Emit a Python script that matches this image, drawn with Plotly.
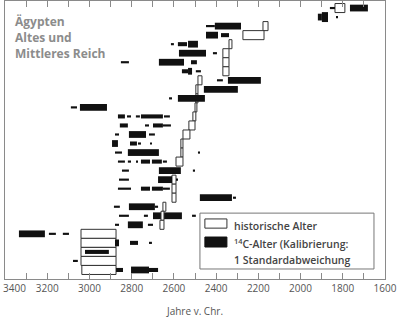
import plotly.graph_objects as go

# Historical reign lengths (years BC): older bound, younger bound, row
hist_from = [1837, 2178, 2273, 2339, 2368, 2368, 2368, 2486, 2496, 2496, 2500, 2510, 2529,
             2557, 2567, 2567, 2590, 2609, 2609, 2609, 2652, 2661, 2666,
             3040, 3040, 3040, 3040, 3036]
hist_to = [1790, 2154, 2173, 2325, 2339, 2339, 2339, 2467, 2486, 2486, 2491, 2496, 2500,
           2524, 2557, 2557, 2557, 2590, 2590, 2590, 2638, 2647, 2647,
           2874, 2874, 2874, 2874, 2874]
hist_row = [0, 2, 3, 4, 5, 6, 7, 8, 9, 10, 11, 12, 13,
            14, 15, 16, 17, 19, 20, 21, 22, 23, 24,
            25, 26, 27, 28, 29]

# Calibrated 14C ranges: older bound, younger bound, row, probability weight (1 low .. 4 high)
c14_from = [1861, 1766,
            1918, 1899, 1832,
            2448, 2406,
            2448, 2377,
            2614, 2581, 2533,
            2576, 2415,
            2851, 2671, 2519,
            2562, 2533, 2496,
            2396, 2344,
            2458,
            2623, 2581,
            3088, 3045,
            2865, 2822, 2780, 2756, 2647,
            2856, 2737, 2699, 2652,
            2879, 2813, 2718,
            2893, 2808, 2770, 2713,
            2879, 2818, 2486,
            2865, 2818, 2775, 2756, 2704, 2652,
            2846, 2671, 2510,
            2860, 2675, 2586,
            2865, 2756, 2704, 2652,
            2477, 2320,
            2884, 2813, 2690,
            2860, 2742, 2699, 2514,
            2879, 2818, 2723,
            3334, 3192, 3126,
            2879, 2808, 2718,
            3021,
            3078,
            2874, 2803, 2718]
c14_to = [1837, 1681,
          1899, 1870, 1823,
          2406, 2282,
          2391, 2339,
          2600, 2538, 2486,
          2448, 2396,
          2813, 2552, 2491,
          2533, 2514, 2472,
          2368, 2188,
          2297,
          2609, 2453,
          3059, 2917,
          2832, 2803, 2761, 2652, 2619,
          2818, 2718, 2652, 2614,
          2860, 2732, 2690,
          2865, 2775, 2756, 2704,
          2846, 2671, 2479,
          2832, 2803, 2770, 2713, 2657, 2633,
          2813, 2567, 2503,
          2813, 2609, 2581,
          2803, 2713, 2652, 2619,
          2325, 2306,
          2856, 2690, 2675,
          2813, 2723, 2562, 2496,
          2860, 2747, 2699,
          3211, 3159, 3097,
          2860, 2770, 2704,
          2908,
          3055,
          2841, 2718, 2675]
c14_row = [0, 0,
           1, 1, 1,
           2, 2,
           3, 3,
           4, 4, 4,
           5, 5,
           6, 6, 6,
           7, 7, 7,
           8, 8,
           9,
           10, 10,
           11, 11,
           12, 12, 12, 12, 12,
           13, 13, 13, 13,
           14, 14, 14,
           15, 15, 15, 15,
           16, 16, 16,
           17, 17, 17, 17, 17, 17,
           18, 18, 18,
           19, 19, 19,
           20, 20, 20, 20,
           21, 21,
           22, 22, 22,
           23, 23, 23, 23,
           24, 24, 24,
           25, 25, 25,
           26, 26, 26,
           27,
           28,
           29, 29, 29]
c14_weight = [1, 3,
              3, 4, 1,
              1, 3,
              3, 2,
              1, 2, 3,
              3, 1,
              1, 3, 2,
              2, 3, 1,
              1, 3,
              3,
              1, 3,
              1, 3,
              2, 1, 1, 2, 1,
              2, 1, 2, 1,
              1, 3, 1,
              3, 2, 1, 1,
              1, 3, 1,
              1, 1, 1, 2, 2, 1,
              1, 3, 1,
              1, 3, 1,
              1, 2, 2, 1,
              3, 1,
              1, 3, 1,
              1, 1, 3, 1,
              1, 3, 1,
              3, 1, 1,
              3, 2, 1,
              2,
              1,
              2, 3, 2]

# labelled ticks every 200 years; the leftmost one sits on the frame edge,
# so it is set as a left-aligned note instead of an axis label
x_ticks = list(range(3200, 1599, -200))
x_labels = [str(v) for v in x_ticks]
first_tick = 3400
first_label = str(first_tick)

FRAME = "#8a8a8a"
TEXT = "#555555"
bar_height = {1: 0.24, 2: 0.45, 3: 0.75, 4: 1.1}


def c14_trace(idx):
    return go.Bar(
        orientation="h",
        y=[c14_row[i] for i in idx],
        base=[c14_to[i] for i in idx],
        x=[c14_from[i] - c14_to[i] for i in idx],
        width=[bar_height[c14_weight[i]] for i in idx],
        marker=dict(color="#111111", line=dict(width=0)),
        hoverinfo="skip", showlegend=False,
    )


# the long range in row 23 lies beneath the reign boxes that cross it
under = [i for i in range(len(c14_row)) if c14_row[i] == 23 and c14_weight[i] == 3]
over = [i for i in range(len(c14_row)) if i not in under]

fig = go.Figure()
fig.add_trace(c14_trace(under))
fig.add_trace(go.Bar(
    orientation="h",
    y=hist_row,
    base=hist_to,
    x=[a - b for a, b in zip(hist_from, hist_to)],
    width=1.0,
    marker=dict(color="white", line=dict(color="#333333", width=1)),
    hoverinfo="skip", showlegend=False,
))
fig.add_trace(c14_trace(over))

# legend panel
shapes = [
    dict(type="rect", xref="paper", yref="paper", x0=0.513, x1=0.971, y0=0.036, y1=0.237,
         line=dict(color="#777777", width=1), fillcolor="white"),
    dict(type="rect", xref="paper", yref="paper", x0=0.526, x1=0.584, y0=0.183, y1=0.216,
         line=dict(color="#333333", width=1), fillcolor="white"),
    dict(type="rect", xref="paper", yref="paper", x0=0.526, x1=0.584, y0=0.115, y1=0.151,
         line=dict(color="#111111", width=1), fillcolor="#111111"),
]

tick_font = dict(family="Open Sans", size=10, color=TEXT)
legend_font = dict(family="Open Sans", size=10.5, color="#444444", weight=600)
title_font = dict(family="Open Sans", size=12, color="#8c8c8c", weight=700)
annotations = [
    dict(text="historische Alter", x=0.597, y=0.191),
    dict(text="<sup>14</sup>C-Alter (Kalibrierung:", x=0.597, y=0.129),
    dict(text="1 Standardabweichung", x=0.597, y=0.068),
]
for a in annotations:
    a.update(xref="paper", yref="paper", xanchor="left", yanchor="middle",
             showarrow=False, font=legend_font)
for txt, yy in [("Ägypten", 0.926), ("Altes und", 0.869), ("Mittleres Reich", 0.810)]:
    annotations.append(dict(text=txt, x=0.021, y=yy, xref="paper", yref="paper",
                            xanchor="left", yanchor="middle", showarrow=False,
                            font=title_font))
annotations.append(dict(text=first_label, x=first_tick, y=0, xref="x", yref="paper",
                        xanchor="left", yanchor="top", xshift=-4, yshift=0,
                        showarrow=False, font=tick_font))

fig.update_layout(
    width=400, height=333,
    margin=dict(l=5, r=15, t=1, b=54),
    paper_bgcolor="white", plot_bgcolor="white",
    barmode="overlay",
    shapes=shapes,
    annotations=annotations,
    xaxis=dict(
        range=[3400, 1600], automargin=False,
        tickvals=x_ticks, ticktext=x_labels,
        ticks="inside", ticklen=6, tickwidth=1, tickcolor=FRAME,
        minor=dict(tick0=1600, dtick=100, ticks="inside", ticklen=6, tickwidth=1,
                   tickcolor=FRAME, showgrid=False),
        showline=True, linecolor=FRAME, linewidth=1.2, mirror="ticks",
        showgrid=False, zeroline=False, ticklabeloverflow="allow",
        tickfont=tick_font,
        title=dict(text="Jahre v. Chr.", standoff=13,
                   font=dict(family="Open Sans", size=10, color=TEXT)),
    ),
    yaxis=dict(
        range=[30.0, -0.78], automargin=False,
        showline=True, linecolor=FRAME, linewidth=1.2, mirror=True,
        showticklabels=False, ticks="", showgrid=False, zeroline=False,
    ),
)

fig.write_html("out.html")
